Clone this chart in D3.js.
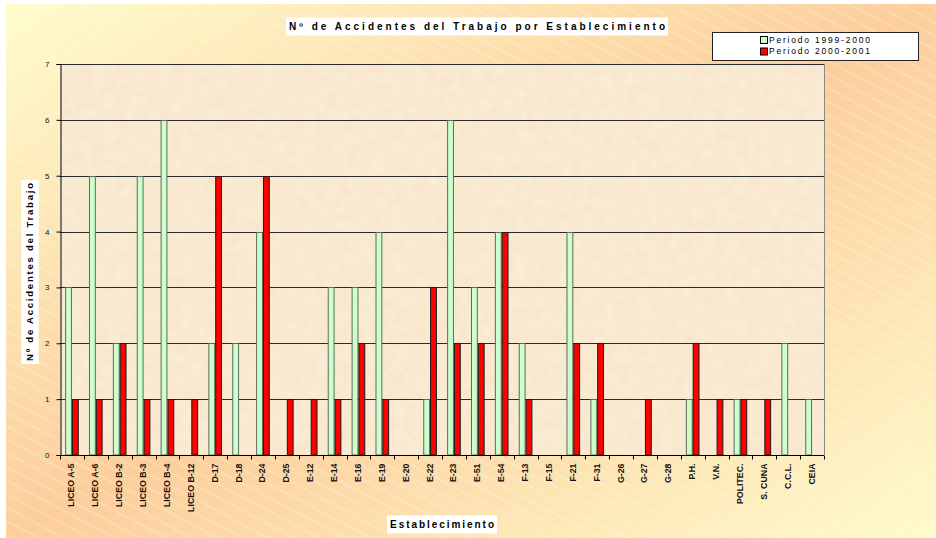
<!DOCTYPE html>
<html>
<head>
<meta charset="utf-8">
<script src="https://cdn.jsdelivr.net/npm/d3@7"></script>
<style>
  body { margin: 0; background: #fff; }
  svg { display: block; font-family: Arial, "Liberation Sans", sans-serif; }
</style>
</head>
<body>
<svg id="chart"></svg>
<script>
const categories = ["LICEO A-5", "LICEO A-6", "LICEO B-2", "LICEO B-3", "LICEO B-4", "LICEO B-12",
  "D-17", "D-18", "D-24", "D-25", "E-12", "E-14", "E-16", "E-19", "E-20", "E-22", "E-23",
  "E-51", "E-54", "F-13", "F-15", "F-21", "F-31", "G-26", "G-27", "G-28", "P.H.", "V.N.",
  "POLITEC.", "S. CUNA", "C.C.L.", "CEIA"]
const seriesNames = ["Periodo 1999-2000", "Periodo 2000-2001"]
const periodo1999 = [3, 5, 2, 5, 6, 0, 2, 2, 4, 0, 0, 3, 3, 4, 0, 1, 6, 3, 4, 2, 0, 4, 1, 0, 0, 0, 1, 0, 1, 0, 2, 1]
const periodo2000 = [1, 1, 2, 1, 1, 1, 5, 0, 5, 1, 1, 1, 2, 1, 0, 3, 2, 2, 4, 1, 0, 2, 2, 0, 1, 0, 2, 1, 1, 1, 0, 0]
const yTicks = [0, 1, 2, 3, 4, 5, 6, 7]
const colors = ["#CCFFCC", "#FF0000"]
const strokes = ["#5d6b5d", "#1a1a1a"]

const W = 936, H = 538
const margin = { top: 64, right: 112, bottom: 83, left: 60 }
const width = W - margin.left - margin.right
const height = H - margin.top - margin.bottom

const svg = d3.select("#chart").attr("width", W).attr("height", H)
const defs = svg.append("defs")

// chart area background: diagonal gradient + faint white hatching
const grad = defs.append("linearGradient").attr("id", "bg")
    .attr("x1", 0).attr("y1", 0).attr("x2", 1).attr("y2", 1)
grad.append("stop").attr("offset", "0%").attr("stop-color", "#FFFCCC")
grad.append("stop").attr("offset", "50%").attr("stop-color", "#FCCE9C")
grad.append("stop").attr("offset", "100%").attr("stop-color", "#FFFBCB")

const hatch = defs.append("pattern").attr("id", "hatch")
    .attr("patternUnits", "userSpaceOnUse").attr("width", 40).attr("height", 12)
    .attr("patternTransform", "rotate(28)")
hatch.append("line").attr("x1", 0).attr("y1", 1).attr("x2", 40).attr("y2", 1)
    .attr("stroke", "#fff").attr("stroke-width", 0.8).attr("stroke-opacity", 0.45)

const tex = defs.append("filter").attr("id", "parchment").attr("x", 0).attr("y", 0).attr("width", 1).attr("height", 1)
tex.append("feTurbulence").attr("type", "fractalNoise").attr("baseFrequency", 0.09).attr("numOctaves", 3).attr("seed", 4).attr("result", "noise")
tex.append("feColorMatrix").attr("in", "noise").attr("type", "matrix")
    .attr("values", "0 0 0 0 1  0 0 0 0 0.97  0 0 0 0 0.92  0.9 0 0 0 -0.25")

svg.append("rect").attr("x", 6).attr("y", 4).attr("width", W - 6).attr("height", H - 4).attr("fill", "url(#bg)")
svg.append("rect").attr("x", 6).attr("y", 4).attr("width", W - 6).attr("height", H - 4).attr("fill", "url(#hatch)")

const g = svg.append("g").attr("transform", "translate(" + margin.left + "," + margin.top + ")")

const x0 = d3.scaleBand().domain(categories).range([0, width]).padding(0)
const x1 = d3.scaleBand().domain([0, 1]).range([0, x0.bandwidth()]).paddingInner(0).paddingOuter(0.75)
const y = d3.scaleLinear().domain([0, 7]).range([height, 0])

// plot area
g.append("rect").attr("width", width).attr("height", height).attr("fill", "#F8E7CC")
g.append("rect").attr("width", width).attr("height", height).attr("filter", "url(#parchment)").attr("opacity", 0.55)

g.append("g").selectAll("line").data(yTicks.slice(1)).enter().append("line")
    .attr("x1", 0).attr("x2", width)
    .attr("y1", d => Math.round(y(d)) + 0.5).attr("y2", d => Math.round(y(d)) + 0.5)
    .attr("stroke", "#2a2a2a").attr("stroke-width", 1)
g.append("line").attr("x1", width + 0.5).attr("x2", width + 0.5).attr("y1", 0).attr("y2", height)
    .attr("stroke", "#8a8a8a")

const rows = categories.map((c, i) => ({ cat: c, vals: [periodo1999[i], periodo2000[i]] }))
const groups = g.append("g").selectAll("g").data(rows).enter().append("g")
    .attr("transform", d => "translate(" + x0(d.cat) + ",0)")
groups.selectAll("rect").data(d => d.vals.map((v, k) => ({ v, k }))).enter()
    .filter(d => d.v > 0)
    .append("rect")
    .attr("x", d => x1(d.k) + 0.5)
    .attr("y", d => Math.round(y(d.v)) + 0.5)
    .attr("width", x1.bandwidth() - 1)
    .attr("height", d => y(0) - Math.round(y(d.v)) - 0.5)
    .attr("fill", d => colors[d.k])
    .attr("stroke", d => strokes[d.k])
    .attr("stroke-width", 1)

// y axis
const yAxis = g.append("g").attr("transform", "translate(0.5,0)")
    .call(d3.axisLeft(y).tickValues(yTicks).tickSize(4).tickPadding(7).tickFormat(d3.format("d")))
yAxis.select(".domain").attr("stroke", "#000")
yAxis.selectAll(".tick line").attr("stroke", "#000")
yAxis.selectAll(".tick text").attr("font-size", 8).attr("fill", "#111")

// x axis: ticks at category boundaries
const xAxis = g.append("g").attr("transform", "translate(0," + (height + 0.5) + ")")
xAxis.append("line").attr("x1", 0).attr("x2", width).attr("stroke", "#000")
xAxis.selectAll(".bt").data(categories.map((c, i) => i)).enter().append("line")
    .attr("x1", i => Math.round(i * x0.step()) + 0.5).attr("x2", i => Math.round(i * x0.step()) + 0.5)
    .attr("y1", 0).attr("y2", 4).attr("stroke", "#000")
xAxis.append("line").attr("x1", width + 0.5).attr("x2", width + 0.5).attr("y1", 0).attr("y2", 4).attr("stroke", "#000")
xAxis.selectAll("text").data(categories).enter().append("text")
    .attr("transform", d => "translate(" + (x0(d) + x0.bandwidth() / 2 + 2.5) + ",8) rotate(-90)")
    .attr("text-anchor", "end")
    .attr("font-size", 8.8).attr("font-weight", "bold").attr("fill", "#111")
    .text(d => d)

// boxed text helper
function boxedText(parent, cx, cy, txt, len, size, rotate) {
  const bg = parent.append("g").attr("transform", "translate(" + cx + "," + cy + ")" + (rotate ? " rotate(-90)" : ""))
  bg.append("rect").attr("x", -len / 2 - 3).attr("y", -size / 2 - 4).attr("width", len + 6).attr("height", size + 8).attr("fill", "#fff")
  bg.append("text").attr("text-anchor", "middle").attr("dy", "0.35em")
      .attr("font-size", size).attr("font-weight", "bold").attr("fill", "#000")
      .attr("textLength", len).attr("lengthAdjust", "spacing")
      .text(txt)
}

boxedText(svg, 477, 26.5, "Nº de Accidentes del Trabajo por Establecimiento", 376, 10, false)
boxedText(svg, 442, 524.5, "Establecimiento", 104, 10, false)
boxedText(svg, 30, 272, "Nº de Accidentes del Trabajo", 178, 9.5, true)

// legend
const legend = svg.append("g").attr("transform", "translate(712,32)")
legend.append("rect").attr("x", 0.5).attr("y", 0.5).attr("width", 206).attr("height", 28)
    .attr("fill", "#fff").attr("stroke", "#222").attr("stroke-width", 1)
const li = legend.selectAll(".item").data(seriesNames).enter().append("g")
    .attr("transform", (d, i) => "translate(48," + (8 + i * 11.5) + ")")
li.append("rect").attr("x", 0.5).attr("y", -3.5).attr("width", 7).attr("height", 7)
    .attr("fill", (d, i) => colors[i]).attr("stroke", "#000")
li.append("text").attr("x", 9).attr("dy", "0.35em").attr("font-size", 8.5).attr("fill", "#000")
    .attr("textLength", 101).attr("lengthAdjust", "spacing")
    .text(d => d)
</script>
</body>
</html>
